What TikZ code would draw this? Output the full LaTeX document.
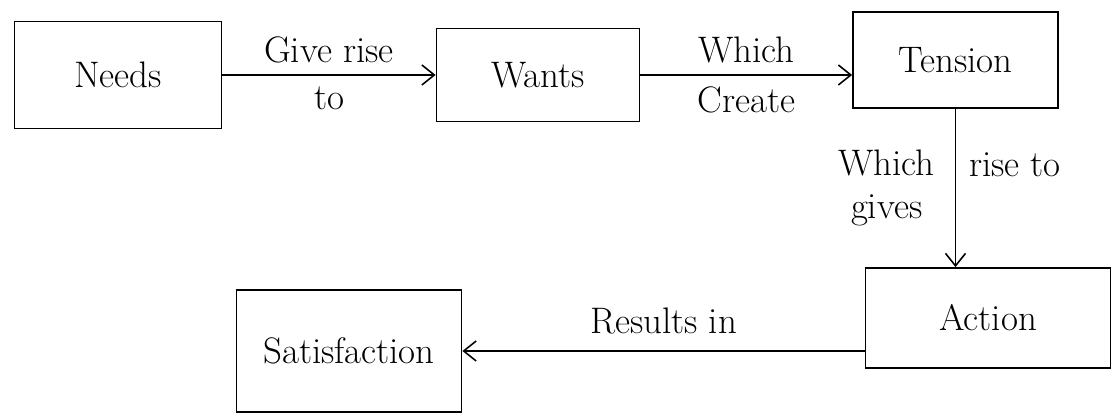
\documentclass[tikz,border=0pt]{standalone}
\usepackage{tikz}
\usetikzlibrary{arrows.meta}

\begin{document}
\begin{tikzpicture}[
        >={Straight Barb[length=2.5mm, width=4mm]},
        box/.style={draw, line width=1pt, inner sep=0pt},
        every node/.style={font=\fontsize{21}{25}\selectfont},
        every path/.style={line width=0.9pt}
    ]
            \useasboundingbox (0,0) rectangle (22.26,8.38);

            \node[box, minimum width=4.14cm, minimum height=2.14cm] (needs) at (2.36,6.88) {Needs};
            \node[box, minimum width=4.06cm, minimum height=1.86cm] (wants) at (10.76,6.88) {Wants};
            \node[box, minimum width=4.1cm, minimum height=1.92cm] (tension) at (19.11,7.18) {Tension};
            \node[box, minimum width=4.9cm, minimum height=2.0cm] (action) at (19.76,2.02) {Action};
            \node[box, minimum width=4.5cm, minimum height=2.44cm] (satisfaction) at (6.98,1.36) {Satisfaction};

            \draw[->] (needs) to node[above=3pt] {Give rise} node[below=3pt] {to} (wants);
            \draw[->] (wants.east) to node[above=3pt] {Which} node[below=3pt] {Create} (wants.east -| tension.west);
            \draw[->] (tension.south) to node[left=8pt, align=center] {Which\\gives} node[right=4pt, pos=0.35] {rise to} (tension.south |- action.north);
            \draw[->] (action.west |- satisfaction) to node[above=6pt] {Results in} (satisfaction.east);
        \end{tikzpicture}
\end{document}
